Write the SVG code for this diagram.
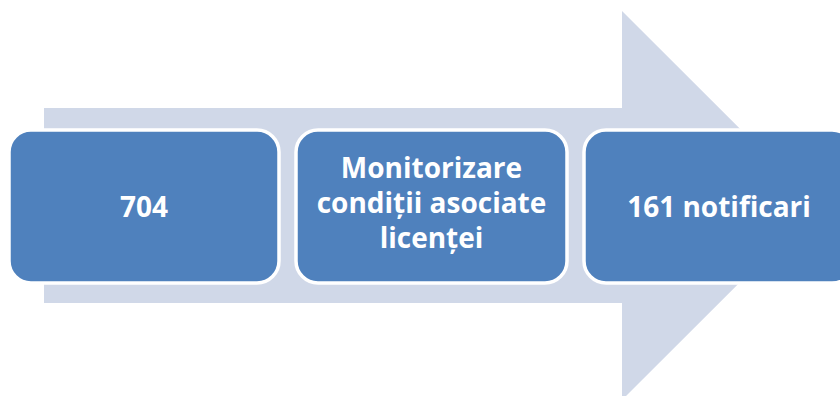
<svg xmlns="http://www.w3.org/2000/svg" width="840" height="396" viewBox="0 0 840 396">
<style>
.box{fill:#4F81BD;stroke:#FFFFFF;stroke-width:3.5}
.t{font-family:"Open Sans","Liberation Sans",sans-serif;font-weight:bold;font-size:28px;fill:#FFFFFF;text-anchor:middle}
</style>
<rect width="840" height="396" fill="#FFFFFF"/>
<g id="arrow">
<polygon points="44,108 622,108 622,11 817,205.5 622,400 622,303 44,303" fill="#D0D8E8"/>
</g>
<g id="node1">
<rect class="box" x="9" y="130" width="270" height="153" rx="22"/>
<text class="t" x="144" y="217">704</text>
</g>
<g id="node2">
<rect class="box" x="296" y="130" width="271" height="153" rx="22"/>
<text class="t" x="431.5" y="178">Monitorizare</text>
<text class="t" x="431.5" y="213">condiții asociate</text>
<text class="t" x="431.5" y="248">licenței</text>
</g>
<g id="node3">
<rect class="box" x="584" y="130" width="270" height="153" rx="22"/>
<text class="t" x="719" y="217">161 notificari</text>
</g>
</svg>
